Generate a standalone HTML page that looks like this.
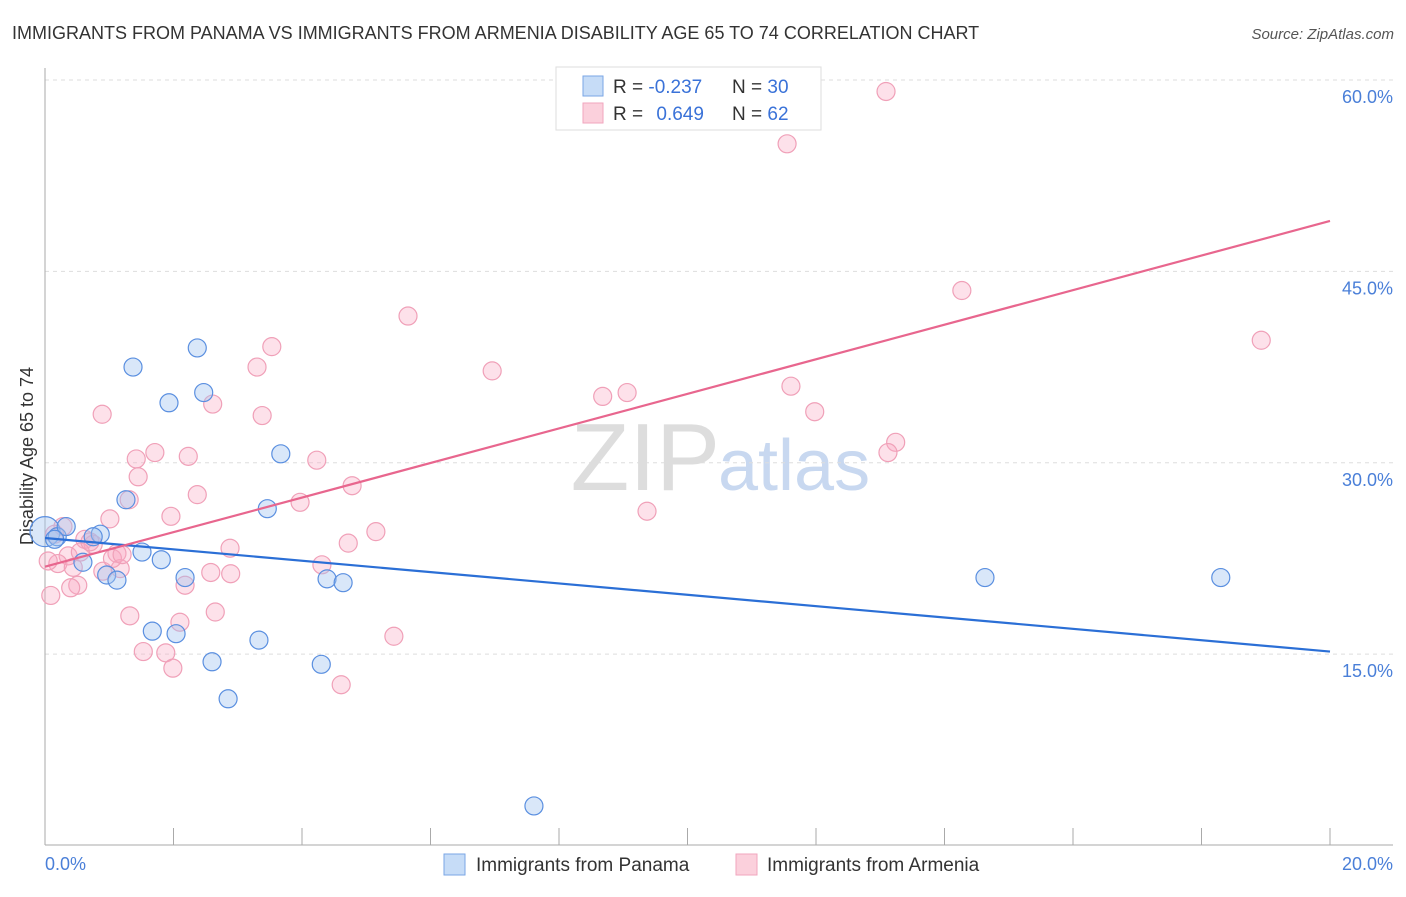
<!DOCTYPE html>
<html><head><meta charset="utf-8"><style>
body{margin:0;background:#fff;font-family:"Liberation Sans",sans-serif}
svg text{font-family:"Liberation Sans",sans-serif}
</style></head><body>
<svg width="1406" height="892" xmlns="http://www.w3.org/2000/svg">
<text x="12" y="39" font-size="18" fill="#333">IMMIGRANTS FROM PANAMA VS IMMIGRANTS FROM ARMENIA DISABILITY AGE 65 TO 74 CORRELATION CHART</text>
<text x="1394" y="39" font-size="15" fill="#555" font-style="italic" text-anchor="end">Source: ZipAtlas.com</text>
<text x="720" y="490" font-size="96" fill="#ddd" text-anchor="end" font-family="Liberation Serif">ZIP</text>
<text x="718" y="490" font-size="72" fill="#c8d8f0">atlas</text>
<g id="grid"></g>
<g id="axes"></g>
<text transform="translate(33,456) rotate(-90)" font-size="18" fill="#333" text-anchor="middle">Disability Age 65 to 74</text>
<text x="45" y="870" font-size="18" fill="#4a7fd8">0.0%</text>
<text x="1393" y="870" font-size="18" fill="#4a7fd8" text-anchor="end">20.0%</text>
<g id="marks"></g>
<g>
<rect x="556" y="67" width="265" height="63" fill="#fff" stroke="#ddd"/>
<rect x="583" y="76" width="20" height="20" fill="#c6dcf7" stroke="#7aa6e6"/>
<rect x="583" y="103" width="20" height="20" fill="#fbd0dc" stroke="#f0a6be"/>
<text x="613" y="93" font-size="19" fill="#333">R = <tspan fill="#3a72d8">-0.237</tspan></text>
<text x="732" y="93" font-size="19" fill="#333">N = <tspan fill="#3a72d8">30</tspan></text>
<text x="613" y="120" font-size="19" fill="#333">R = <tspan fill="#3a72d8" dx="8">0.649</tspan></text>
<text x="732" y="120" font-size="19" fill="#333">N = <tspan fill="#3a72d8">62</tspan></text>
</g>
<g>
<rect x="444" y="854" width="21" height="21" fill="#c6dcf7" stroke="#7aa6e6"/>
<text x="476" y="871" font-size="19" fill="#333">Immigrants from Panama</text>
<rect x="736" y="854" width="21" height="21" fill="#fbd0dc" stroke="#f0a6be"/>
<text x="767" y="871" font-size="19" fill="#333">Immigrants from Armenia</text>
</g>
</svg>
<script>
const yTicks=[15,30,45,60];
const yTickLabels=["15.0%","30.0%","45.0%","60.0%"];
const xTicks=[0,2,4,6,8,10,12,14,16,18,20];
const panamaX=[0.0,0.19,0.33,0.86,1.37,2.37,1.93,2.47,1.26,3.67,3.46,1.51,1.81,0.59,0.96,1.12,2.18,4.39,4.64,1.67,2.04,3.33,2.60,4.30,2.85,7.61,14.63,18.30,0.15,0.75];
const panamaY=[24.6,24.2,25.0,24.4,37.5,39.0,34.7,35.5,27.1,30.7,26.4,23.0,22.4,22.2,21.2,20.8,21.0,20.9,20.6,16.8,16.6,16.1,14.4,14.2,11.5,3.1,21.0,21.0,24.0,24.2];
const armeniaX=[13.09,11.55,14.27,18.93,5.65,3.53,3.30,6.96,8.68,9.06,11.61,11.98,0.89,2.61,3.38,13.24,13.12,1.71,1.42,2.23,4.23,1.45,4.78,1.31,2.37,3.97,9.37,1.96,1.01,5.15,4.72,2.88,0.62,0.75,0.28,1.12,0.36,4.31,0.20,0.44,0.90,1.17,2.58,2.89,0.51,2.18,0.09,2.65,1.32,2.10,5.43,1.53,1.88,1.99,4.61,0.05,0.55,0.70,1.05,0.15,0.40,1.20];
const armeniaY=[59.1,55.0,43.5,39.6,41.5,39.1,37.5,37.2,35.2,35.5,36.0,34.0,33.8,34.6,33.7,31.6,30.8,30.8,30.3,30.5,30.2,28.9,28.2,27.1,27.5,26.9,26.2,25.8,25.6,24.6,23.7,23.3,24.0,23.6,25.0,22.9,22.7,22.0,22.1,21.8,21.5,21.7,21.4,21.3,20.4,20.4,19.6,18.3,18.0,17.5,16.4,15.2,15.1,13.9,12.6,22.3,23.0,23.8,22.5,24.4,20.2,22.8];
const panamaTrend=[24.1,15.2];
const armeniaTrend=[21.85,48.95];
const NS="http://www.w3.org/2000/svg";
const X0=45,X1=1330,YT=80,YB=845.5;
function xs(v){return X0+(v/20)*(X1-X0);}
function ys(v){return YB-(v/60)*(YB-YT);}
function mk(tag,attrs,parent){const e=document.createElementNS(NS,tag);for(const k in attrs)e.setAttribute(k,attrs[k]);parent.appendChild(e);return e;}
const grid=document.getElementById('grid'),axes=document.getElementById('axes'),marks=document.getElementById('marks');
yTicks.forEach((t,i)=>{
 const l=mk('line',{x1:45,x2:1393,y1:ys(t),y2:ys(t),stroke:'#ddd','stroke-dasharray':'4,4'},grid);
 
 
 const tx=mk('text',{x:1393,y:ys(t)+23,'font-size':18,fill:'#4a7fd8','text-anchor':'end'},grid);
 tx.textContent=yTickLabels[i];
 
 
});
const ax=mk('line',{x1:45,x2:45,y1:68,y2:845,stroke:'#aaa'},axes);


const bx=mk('line',{x1:45,x2:1393,y1:845,y2:845,stroke:'#aaa'},axes);


xTicks.forEach(t=>{
 const l=mk('line',{x1:xs(t),x2:xs(t),y1:828,y2:845,stroke:'#aaa'},axes);
 
 
});
armeniaX.forEach((v,i)=>{
 const c=mk('circle',{cx:xs(v),cy:ys(armeniaY[i]),r:9,fill:'rgba(248,170,195,0.35)',stroke:'#f0a0b8','stroke-width':1.2},marks);
 
 
});
panamaX.forEach((v,i)=>{
 const c=mk('circle',{cx:xs(v),cy:ys(panamaY[i]),r:i==0?15:9,fill:'rgba(160,196,240,0.4)',stroke:'#5a8fe0','stroke-width':1.2},marks);
 
 
});
const tb=mk('line',{x1:xs(0),y1:ys(panamaTrend[0]),x2:xs(20),y2:ys(panamaTrend[1]),stroke:'#2b6fd6','stroke-width':2.2},marks);


const tp=mk('line',{x1:xs(0),y1:ys(armeniaTrend[0]),x2:xs(20),y2:ys(armeniaTrend[1]),stroke:'#e8668e','stroke-width':2.2},marks);


</script>
</body></html>
